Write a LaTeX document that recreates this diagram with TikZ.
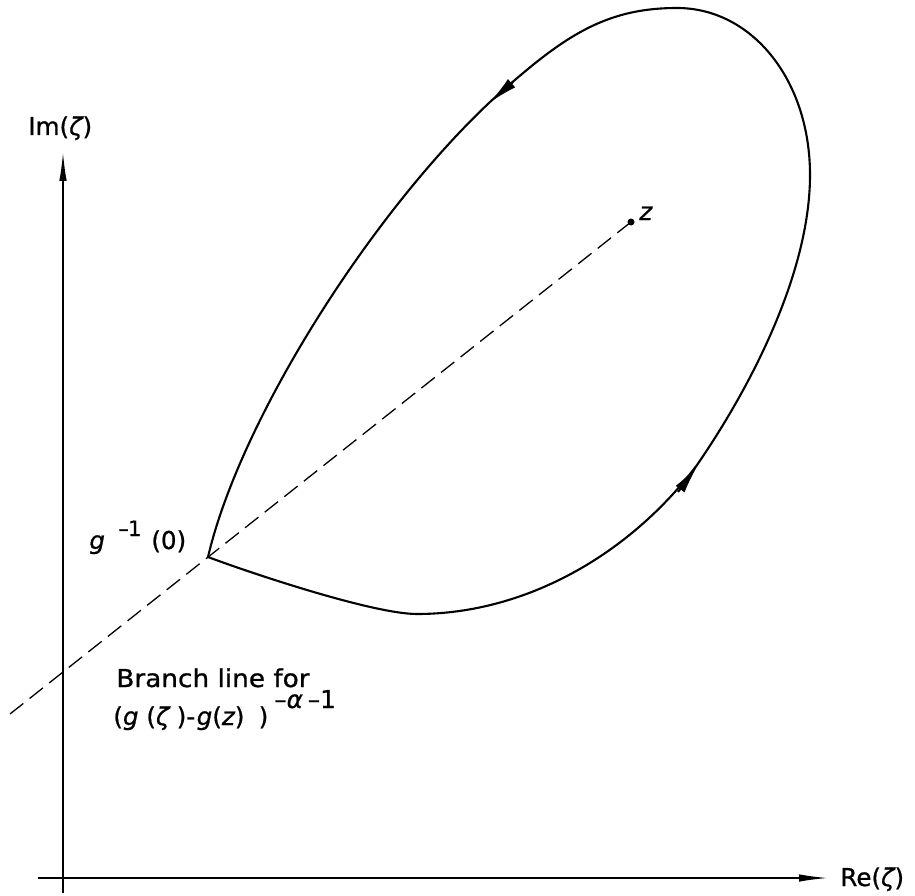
\documentclass[tikz,border=0pt]{standalone}
\usepackage{fontspec}
\setmainfont{DejaVu Sans}[FakeBold=0.8]
\usetikzlibrary{arrows.meta}
\newcommand\mi[1]{{\itshape #1}}
\begin{document}
\begin{tikzpicture}[x=0.02cm, y=-0.02cm,
  lbl/.style={inner sep=0pt, anchor=base west, font=\fontsize{14pt}{17pt}\selectfont},
  axisline/.style={line width=0.032cm, -{Latex[length=0.58cm, width=0.15cm]}},
  curvepath/.style={line width=0.042cm, line join=round},
  tipmark/.style={line width=0.042cm, -{Latex[length=0.6cm, width=0.22cm]}},
  branchline/.style={line width=0.026cm, dash pattern=on 0.34cm off 0.16cm}]
\useasboundingbox (0,0) rectangle (915,895);
% axes
\coordinate (ImBot) at (63,893);
\coordinate (ImTop) at (63,152);
\coordinate (ReLeft) at (38,878);
\coordinate (ReRight) at (828,878);
\draw[axisline] (ImBot) -- (ImTop);
\draw[axisline] (ReLeft) -- (ReRight);
\node[lbl] (imlabel) at (28,135) {Im(\mi{ζ})};
\node[lbl] (relabel) at (840,886) {Re(\mi{ζ})};
% branch line
\coordinate (C) at (208,557);
\coordinate (Z) at (631,222);
\coordinate (D) at (10,714);
\draw[branchline] (D) -- (Z);
\node[circle, fill, inner sep=0pt, minimum size=0.14cm] (zdot) at (Z) {};
\node[lbl] (zlabel) at (639,220) {\mi{z}};
% contour
\coordinate (A1) at (490,102);
\coordinate (Top) at (677,8);
\coordinate (Rt) at (810,175);
\coordinate (A2) at (697,465);
\coordinate (Bot) at (417,614);
\draw[curvepath] (C) .. controls (240,420) and (370,215) .. (A1)
  .. controls (560,39) and (602,8) .. (Top)
  .. controls (752,8) and (810,80) .. (Rt)
  .. controls (810,275) and (748,391) .. (A2)
  .. controls (631,553) and (527,614) .. (Bot)
  .. controls (372,614) and (245,571) .. (C);
\coordinate (A2s) at (678,492);
\coordinate (A2t) at (698,465);
\coordinate (A1s) at (513,82);
\coordinate (A1t) at (489,103);
\draw[tipmark] (A2s) -- (A2t);
\draw[tipmark] (A1s) -- (A1t);
% labels
\node[lbl] (gl) at (89,549) {\mi{g}};
\node[lbl, font=\fontsize{12pt}{14pt}\selectfont] (glexp) at (118,536) {–\kern-0.04em1};
\node[lbl] (gzero) at (151,549) {(0)};
\node[lbl] (branch) at (116,687) {\scalebox{1.07}[1]{Branch line for}};
\node[lbl] (expr) at (113,725) {(\mi{g}\hspace{0.156cm}(\mi{ζ}\hspace{0.148cm})-\hspace{0.03cm}\mi{g}(\mi{z})\hspace{0.286cm})};
\node[lbl] (exprexp) at (274,708) {–\mi{α}\hspace{0.1cm}–1};
\end{tikzpicture}
\end{document}
